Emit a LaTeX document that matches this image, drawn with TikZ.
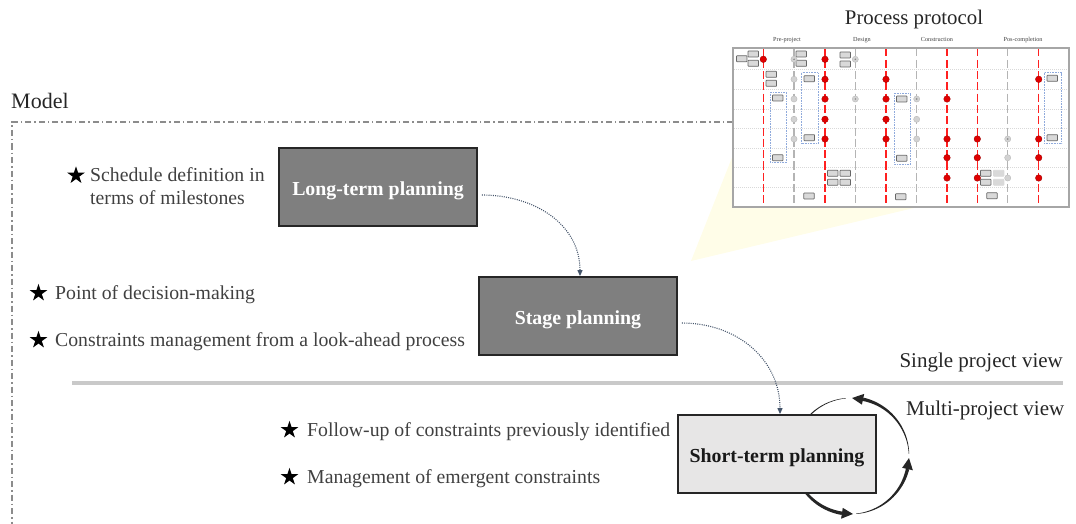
\documentclass[tikz,border=0pt]{standalone}
\usepackage{fontspec}
\setmainfont{Liberation Serif}
\usetikzlibrary{arrows.meta,shapes.geometric}

\definecolor{boxdark}{HTML}{7F7F7F}
\definecolor{boxlight}{HTML}{E7E6E6}
\definecolor{edgecol}{HTML}{262626}
\definecolor{txtcol}{HTML}{404040}
\definecolor{conncol}{HTML}{44546A}
\definecolor{framecol}{HTML}{8C8C8C}
\definecolor{sepcol}{HTML}{C9C9C9}
\definecolor{calloutcol}{HTML}{FFFDE8}
\definecolor{mred}{HTML}{FF2020}
\definecolor{mdot}{HTML}{E00000}
\definecolor{mgray}{HTML}{B4B4B4}
\definecolor{gdot}{HTML}{D2D2D2}
\definecolor{rowcol}{HTML}{D9D9D9}
\definecolor{grpcol}{HTML}{8FAADC}

% tapered arc of the cycle, from angle #1 to the head base at angle #2
\newcommand\cycarc[2]{%
  \fill[black!85] plot[domain=0:1,samples=40]
      ({851+(58.2+1.5*\x)*cos(#1+\x*(#2-#1))},{-456+(58.2+1.5*\x)*sin(#1+\x*(#2-#1))})
    -- plot[domain=0:1,samples=40]
      ({851+(56.3+1.5*\x)*cos(#2-\x*(#2-#1))},{-456+(56.3+1.5*\x)*sin(#2-\x*(#2-#1))})
    -- cycle;
  \fill[black!85] ({851+63.5*cos(#2)},{-456+63.5*sin(#2)})
    -- ({851+58*cos(#2+11)},{-456+58*sin(#2+11)})
    -- ({851+52.5*cos(#2)},{-456+52.5*sin(#2)}) -- cycle;
}
% small task block of the protocol sheet
\newcommand\tblock[3][edgecol!70]{%
  \draw[draw=#1, fill=rowcol, line width=0.7pt, rounded corners=0.6pt]
    (#2-5.25,-#3-3) rectangle (#2+5.25,-#3+3);}
\newcommand\rdot[2]{\fill[mdot, draw=red!60!black, line width=0.3pt] (#1,-#2) circle (3.3);}
\newcommand\gdot[2]{\fill[gdot, draw=mgray, line width=0.3pt] (#1,-#2) circle (3.1);}
\newcommand\gdotc[2]{\fill[gdot, draw=mgray, line width=0.3pt] (#1,-#2) circle (3.1);
  \fill[gray] (#1,-#2) circle (0.8);}

\tikzset{
  x=1pt, y=1pt,
  plan/.style={draw=edgecol, line width=1.8pt, minimum width=198pt,
    minimum height=78pt, inner sep=0pt, text height=17pt, text depth=1pt,
    font=\bfseries\fontsize{19.85}{23}\selectfont},
  item/.style={text=txtcol, inner sep=0pt, anchor=base west,
    font=\fontsize{19.75}{23}\selectfont, align=left},
  starmark/.style={star, star points=5, star point ratio=2.618,
    minimum size=18.5pt, inner sep=0pt, fill=black},
  conn/.style={draw=conncol, line width=1.1pt, dash pattern=on 1pt off 1.2pt,
    -{Triangle[length=6pt,width=5pt]}},
  label/.style={inner sep=0pt, anchor=base, text=black!85,
    font=\fontsize{21}{24}\selectfont},
  phase/.style={inner sep=0pt, anchor=base, text=txtcol,
    font=\fontsize{6.2}{7}\selectfont},
  framedash/.style={draw=framecol, line width=1.1pt,
    dash pattern=on 6pt off 3pt on 1.5pt off 3pt},
  reddash/.style={draw=mred, line width=1.3pt, dash pattern=on 8pt off 3.3pt},
  graydash/.style={draw=mgray, line width=1.3pt, dash pattern=on 8pt off 3.3pt},
}

\begin{document}
\begin{tikzpicture}
\useasboundingbox (0,0) rectangle (1076,-524);

% zoom callout behind the protocol sheet
\fill[calloutcol] (691,-261) -- (733,-155) -- (733,-207) -- (918,-207) -- cycle;

% model frame
\draw[framedash] (733,-122) -- (12,-122) -- (12,-524);
\node[label, anchor=base west, font=\fontsize{22}{26}\selectfont] (model) at (11,-108.5) {Model};

% ---------------- process protocol sheet ----------------
\node[label, font=\fontsize{20.8}{24}\selectfont] (pptitle) at (914,-25) {Process protocol};
\node[phase] (ph1) at (787,-42) {Pre-project};
\node[phase] (ph2) at (862,-42) {Design};
\node[phase] (ph3) at (937,-42) {Construction};
\node[phase] (ph4) at (1023,-42) {Pos-completion};

\fill[white] (733,-48) rectangle (1069,-207);
\foreach \yy in {69.3,89.3,109,128.7,148.3,167.7,187.3}
  \draw[rowcol, line width=0.5pt, dash pattern=on 1pt off 1pt] (734,-\yy) -- (1068,-\yy);
\foreach \xx in {763.3,825,886,947,977.3,1038.7}
  \draw[reddash] (\xx,-48.5) -- (\xx,-206.5);
\foreach \xx in {794,855.3,916.7,1007.7}
  \draw[graydash] (\xx,-48.5) -- (\xx,-206.5);

% activity groups
\foreach \a/\b/\c/\d in {770/92.3/786.7/162.3, 801.7/72.7/818.3/143.3,
                         894/93.3/910.7/164, 1044.3/72.7/1061.7/143.3}
  \draw[grpcol, line width=0.6pt, dash pattern=on 0.8pt off 0.8pt] (\a,-\b) rectangle (\c,-\d);

% task blocks
\foreach \p/\q in {741.7/58.7, 753.3/54, 753.3/63.3, 801.3/54, 801.3/63.3, 845.3/55, 845.3/64,
                   771.3/74.3, 771.3/83.3, 809.3/78.7, 777.7/98, 901.7/99, 1052.3/78.3,
                   809.3/137.7, 1052.3/137.7, 777.7/157.7, 901.7/158.3,
                   832.7/173.3, 845.3/173.3, 832.7/182.3, 845.3/182.3, 985.7/173.3, 985.7/182.3,
                   809/196, 900.7/196.7, 992/195.7}
  \tblock{\p}{\q};
\tblock[rowcol]{998.7}{173.3}
\tblock[rowcol]{998.7}{182.3}

% gates
\foreach \p/\q in {763.3/59.3, 825/59.3, 825/79.3, 886/79.3, 1038.7/79.3,
                   825/99, 886/99, 947/99, 825/119.3, 886/119.3,
                   825/139, 886/139, 947/139, 977.3/139, 1038.7/139,
                   947/157.7, 977.3/157.7, 1038.7/157.7, 947/178, 977.3/178, 1038.7/178}
  \rdot{\p}{\q};
\foreach \p/\q in {794/79.3, 794/99, 794/119.3, 916.7/119.3, 794/139, 916.7/139,
                   1007.7/157.7, 1007.7/178}
  \gdot{\p}{\q};
\foreach \p/\q in {794/59.3, 855.3/59.3, 855.3/99, 916.7/99, 1007.7/139}
  \gdotc{\p}{\q};

\draw[black!35, line width=1.3pt] (733,-48) rectangle (1069,-207);

% ---------------- planning levels ----------------
\draw[sepcol, line width=4pt] (72,-383) -- (1063,-383);
\node[label, anchor=base east] (single) at (1063,-367.5) {Single project view};
\node[label, anchor=base west] (multi) at (906,-415) {Multi-project view};

% cycle of the short-term level
\cycarc{95}{261}
\cycarc{275}{347}
\cycarc{2}{78}

\node[plan, fill=boxdark, text=white] (lt) at (378,-187) {Long-term planning};
\node[plan, fill=boxdark, text=white] (sp) at (578,-316) {Stage planning};
\node[plan, fill=boxlight, text=black!90] (sh) at (777,-454) {Short-term planning};

\draw[conn] ([xshift=4pt,yshift=-8pt]lt.east) to[out=0,in=90,looseness=1.05] ([xshift=2pt]sp.north);
\draw[conn] ([xshift=4pt,yshift=-7pt]sp.east) to[out=0,in=90,looseness=1.05] ([xshift=3pt]sh.north);

% characteristics of each level
\node[starmark] (s1) at (76,-175.5) {};
\node[item] (t1) at (90,-204.5) {Schedule definition in\\terms of milestones};
\node[starmark] (s2) at (38.5,-293) {};
\node[item] (t2) at (55,-299.5) {Point of decision-making};
\node[starmark] (s3) at (38.5,-340) {};
\node[item] (t3) at (55,-346.5) {Constraints management from a look-ahead process};
\node[starmark] (s4) at (289.5,-430) {};
\node[item] (t4) at (307,-436.5) {Follow-up of constraints previously identified};
\node[starmark] (s5) at (289.5,-477) {};
\node[item] (t5) at (307,-483.5) {Management of emergent constraints};
\end{tikzpicture}
\end{document}
